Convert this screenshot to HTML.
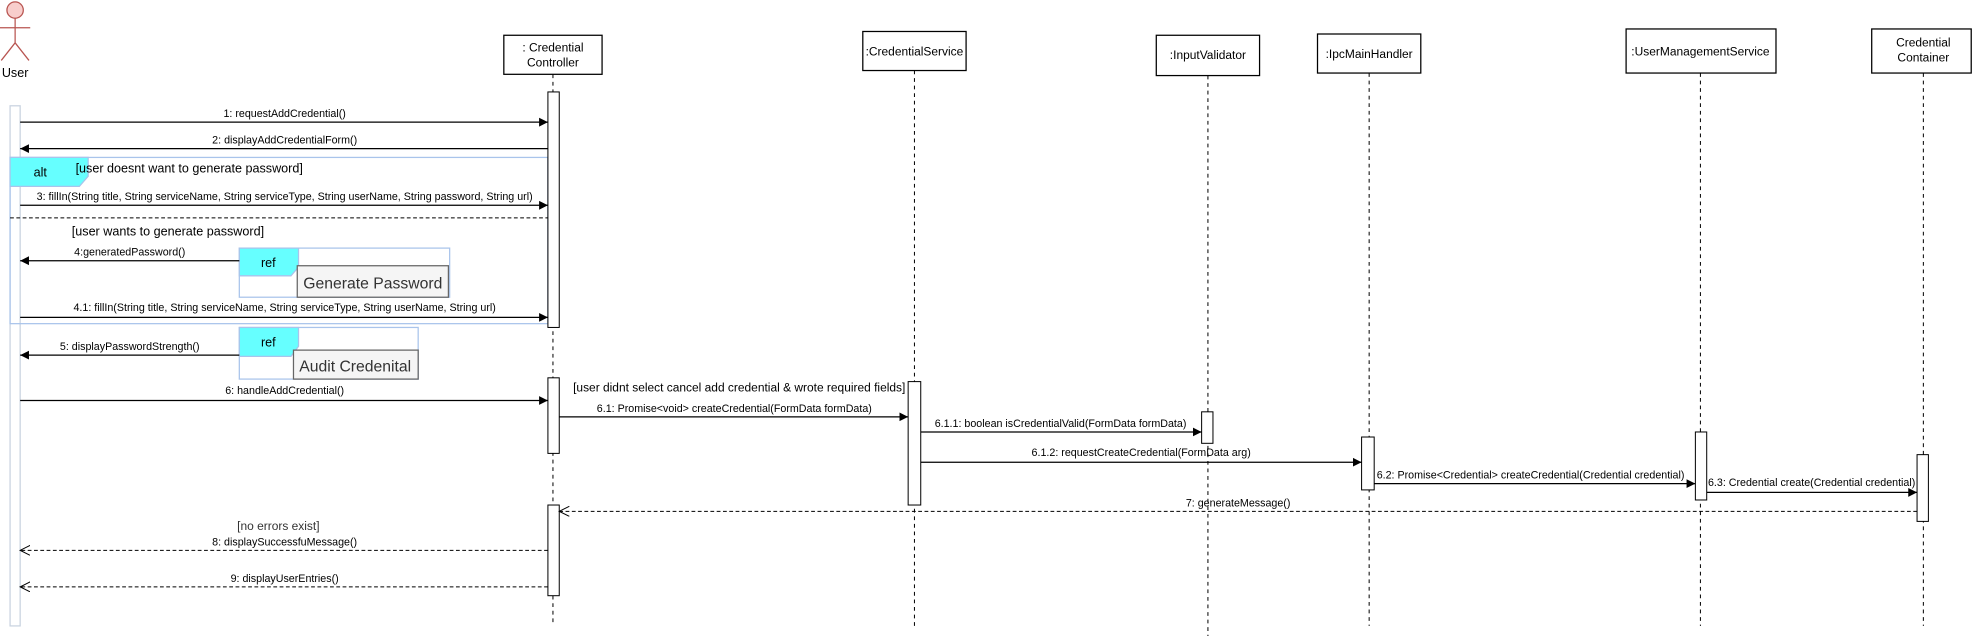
<!DOCTYPE html>
<html><head><meta charset="utf-8"><style>html,body{margin:0;padding:0;background:#fff}svg{display:block}</style></head>
<body>
<svg width="1975" height="636" viewBox="0 0 1568 505" preserveAspectRatio="none" xmlns="http://www.w3.org/2000/svg" font-family="Liberation Sans, sans-serif">
<defs>
<marker id="f" markerWidth="8" markerHeight="8" refX="7" refY="4" orient="auto" markerUnits="userSpaceOnUse"><path d="M0,0.5 L7,4 L0,7.5 z" fill="#000"/></marker>
<marker id="o" markerWidth="10" markerHeight="10" refX="8" refY="4" orient="auto" markerUnits="userSpaceOnUse"><path d="M0,0 L8,4 L0,8" fill="none" stroke="#000" stroke-width="0.8"/></marker>
</defs>
<!-- actor -->
<g stroke="#b85450" fill="none" stroke-width="1">
<circle cx="12" cy="8" r="6.5" fill="#f8cecc"/>
<line x1="12" y1="14.5" x2="12" y2="34"/>
<line x1="0" y1="22" x2="24" y2="22"/>
<line x1="12" y1="34" x2="1" y2="48"/>
<line x1="12" y1="34" x2="23" y2="48"/>
</g>
<text x="12" y="61" font-size="10" text-anchor="middle">User</text>
<rect x="8" y="84" width="8" height="413" fill="#fff" stroke="#c9d3e0" stroke-width="1"/>
<!-- lifelines -->
<g stroke="#000" stroke-width="0.8" stroke-dasharray="3,3">
<line x1="439" y1="59" x2="439" y2="497"/>
<line x1="726" y1="56" x2="726" y2="497"/>
<line x1="959" y1="60" x2="959" y2="505"/>
<line x1="1087" y1="58" x2="1087" y2="497"/>
<line x1="1350" y1="58" x2="1350" y2="497"/>
<line x1="1527" y1="58" x2="1527" y2="497"/>
</g>
<!-- boxes -->
<g fill="#fff" stroke="#000" stroke-width="1">
<rect x="400" y="28" width="78" height="31"/>
<rect x="685" y="25" width="82" height="31"/>
<rect x="918" y="28" width="82" height="32"/>
<rect x="1046" y="27" width="82" height="31"/>
<rect x="1291" y="23" width="119" height="35"/>
<rect x="1486" y="23" width="79" height="35"/>
</g>
<g font-size="9.5" text-anchor="middle">
<text x="439" y="41">: Credential</text><text x="439" y="53">Controller</text>
<text x="726" y="44">:CredentialService</text>
<text x="959" y="47">:InputValidator</text>
<text x="1087" y="46">:IpcMainHandler</text>
<text x="1350" y="44">:UserManagementService</text>
<text x="1527" y="37">Credential</text><text x="1527" y="49">Container</text>
</g>
<!-- alt frame -->
<rect x="8" y="125" width="427" height="132" fill="none" stroke="#a9c4eb" stroke-width="1"/>
<path d="M8,125 H70 V140 L63,148 H8 z" fill="#66ffff" stroke="#a9c4eb"/>
<text x="32" y="140" font-size="10" text-anchor="middle">alt</text>
<text x="60" y="137" font-size="10">[user doesnt want to generate password]</text>
<line x1="8" y1="173" x2="435" y2="173" stroke="#000" stroke-width="0.8" stroke-dasharray="3,2"/>
<text x="57" y="187" font-size="10">[user wants to generate password]</text>
<!-- ref 1 -->
<rect x="190" y="197" width="167" height="39" fill="#fff" stroke="#a9c4eb"/>
<path d="M190,197 H237 V212 L231,219 H190 z" fill="#66ffff" stroke="#a9c4eb"/>
<text x="213" y="212" font-size="10" text-anchor="middle">ref</text>
<rect x="236" y="211" width="120" height="25" fill="#f5f5f5" stroke="#666"/>
<text x="296" y="229" font-size="12.5" fill="#333" text-anchor="middle">Generate Password</text>
<!-- ref 2 -->
<rect x="190" y="260" width="142" height="41" fill="#fff" stroke="#a9c4eb"/>
<path d="M190,260 H237 V275 L231,283 H190 z" fill="#66ffff" stroke="#a9c4eb"/>
<text x="213" y="275" font-size="10" text-anchor="middle">ref</text>
<rect x="233" y="278" width="99" height="23" fill="#f5f5f5" stroke="#666"/>
<text x="282" y="295" font-size="12.5" fill="#333" text-anchor="middle">Audit Credenital</text>
<!-- activations -->
<g fill="#fff" stroke="#000" stroke-width="0.8">
<rect x="435" y="73" width="9" height="187"/>
<rect x="435" y="300" width="9" height="60"/>
<rect x="435" y="401" width="9" height="72"/>
<rect x="721" y="303" width="10" height="98"/>
<rect x="954" y="327" width="9" height="25"/>
<rect x="1081" y="347" width="10" height="42"/>
<rect x="1346" y="343" width="9" height="54"/>
<rect x="1522" y="361" width="9" height="53"/>
</g>
<!-- messages -->
<g stroke="#000" stroke-width="1">
<line x1="16" y1="97" x2="435" y2="97" marker-end="url(#f)"/>
<line x1="435" y1="118" x2="16" y2="118" marker-end="url(#f)"/>
<line x1="16" y1="163" x2="435" y2="163" marker-end="url(#f)"/>
<line x1="190" y1="207" x2="16" y2="207" marker-end="url(#f)"/>
<line x1="16" y1="252" x2="435" y2="252" marker-end="url(#f)"/>
<line x1="190" y1="282" x2="16" y2="282" marker-end="url(#f)"/>
<line x1="16" y1="318" x2="435" y2="318" marker-end="url(#f)"/>
<line x1="444" y1="331" x2="721" y2="331" marker-end="url(#f)"/>
<line x1="731" y1="343" x2="954" y2="343" marker-end="url(#f)"/>
<line x1="731" y1="367" x2="1081" y2="367" marker-end="url(#f)"/>
<line x1="1091" y1="384" x2="1346" y2="384" marker-end="url(#f)"/>
<line x1="1355" y1="391" x2="1522" y2="391" marker-end="url(#f)"/>
</g>
<g stroke="#000" stroke-width="0.8" stroke-dasharray="3,2">
<line x1="1522" y1="406" x2="444" y2="406" marker-end="url(#o)"/>
<line x1="435" y1="437" x2="16" y2="437" marker-end="url(#o)"/>
<line x1="435" y1="466" x2="16" y2="466" marker-end="url(#o)"/>
</g>
<g font-size="8.5" text-anchor="middle">
<text x="226" y="93">1: requestAddCredential()</text>
<text x="226" y="114">2: displayAddCredentialForm()</text>
<text x="226" y="159">3: fillIn(String title, String serviceName, String serviceType, String userName, String password, String url)</text>
<text x="103" y="203">4:generatedPassword()</text>
<text x="226" y="247">4.1: fillIn(String title, String serviceName, String serviceType, String userName, String url)</text>
<text x="103" y="278">5: displayPasswordStrength()</text>
<text x="226" y="313">6: handleAddCredential()</text>
<text x="583" y="327">6.1: Promise&lt;void&gt; createCredential(FormData formData)</text>
<text x="842" y="339">6.1.1: boolean isCredentialValid(FormData formData)</text>
<text x="906" y="362">6.1.2: requestCreateCredential(FormData arg)</text>
<text x="983" y="402">7: generateMessage()</text>
<text x="226" y="433">8: displaySuccessfuMessage()</text>
<text x="226" y="462">9: displayUserEntries()</text>
</g>
<g font-size="8.5">
<text x="1093" y="380">6.2: Promise&lt;Credential&gt; createCredential(Credential credential)</text>
<text x="1356" y="386">6.3: Credential create(Credential credential)</text>
</g>
<text x="455" y="311" font-size="9.5">[user didnt select cancel add credential &amp; wrote required fields]</text>
<text x="221" y="421" font-size="9.5" text-anchor="middle" fill="#333">[no errors exist]</text>
</svg>
</body></html>
